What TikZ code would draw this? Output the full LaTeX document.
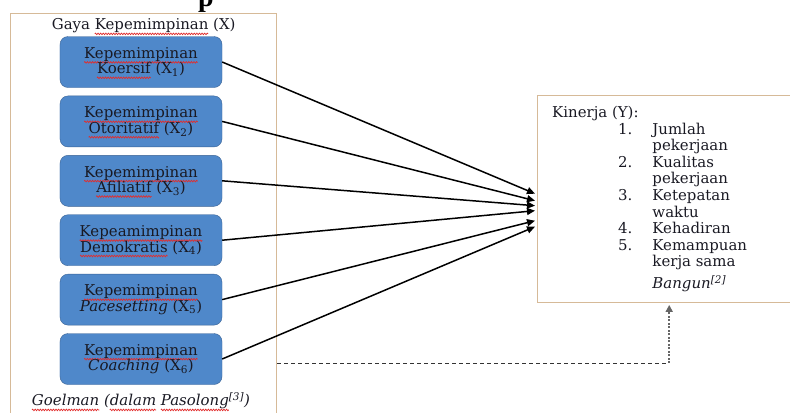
\documentclass[tikz,border=0pt]{standalone}
\usepackage{fontspec}
\setmainfont{DejaVu Serif}
\newfontfamily\headfont{Liberation Serif}
\usepackage{tikz}
\usetikzlibrary{arrows.meta, positioning, decorations.pathmorphing}
\usepackage{xcolor}
\definecolor{cBox}{RGB}{79,136,202}
\definecolor{cBoxLine}{RGB}{58,98,148}
\definecolor{cFrame}{RGB}{214,186,152}
\definecolor{cText}{RGB}{25,25,35}
\definecolor{cSquig}{RGB}{225,45,45}
\newsavebox{\sqbox}
\newcommand{\sqw}[1]{\leavevmode\sbox{\sqbox}{#1}%
  \rlap{\tikz[overlay, baseline=0pt, x=1bp, y=1bp, sharp corners]
    \draw[cSquig, line width=0.7bp, fill=none, sharp corners, decorate,
          decoration={zigzag, amplitude=0.8bp, segment length=2.6bp}]
      (0pt,-4bp) -- (\wd\sqbox,-4bp);}%
  \usebox{\sqbox}}
\tikzset{
  framebox/.style={rectangle, draw=cFrame, line width=1.4bp},
  stylenode/.style={rectangle, rounded corners=8bp, draw=cBoxLine,
                    fill=cBox, minimum width=162bp, minimum height=51bp,
                    align=center, text=cText,
                    font=\fontsize{15}{15.5}\selectfont},
  plaintext/.style={text=cText, font=\fontsize{15}{15.5}\selectfont},
  linkarrow/.style={-{Triangle[length=8bp,width=7bp]}, line width=1.5bp,
                    color=black},
  dashline/.style={dashed, dash pattern=on 4bp off 3bp, line width=1bp,
                   color=black!80},
  dotarrow/.style={-{Triangle[length=7bp,width=7bp]},
                   dash pattern=on 2bp off 1.5bp, line width=1.6bp,
                   color=black!60}
}
\begin{document}
\begin{tikzpicture}[x=1bp, y=-1bp, node distance=8bp and 1cm]
  \useasboundingbox (0,0) rectangle (790,412);
  \node[font=\headfont\bfseries\fontsize{28}{28}\selectfont, anchor=base]
      (head) at (206,6) {p};

  \node[framebox, minimum width=266bp, minimum height=420bp,
        anchor=north west] (gaya) at (10,13) {};
  \node[plaintext, anchor=north] (gayatitle) at ([yshift=-2bp]gaya.north)
      {Gaya \sqw{Kepemimpinan} (X)};

  \node[stylenode] (x1) at (141,62)
      {\sqw{Kepemimpinan}\\\sqw{Koersif} (X\textsubscript{1})};
  \node[stylenode, below=of x1] (x2)
      {\sqw{Kepemimpinan}\\\sqw{Otoritatif} (X\textsubscript{2})};
  \node[stylenode, below=of x2] (x3)
      {\sqw{Kepemimpinan}\\\sqw{Afiliatif} (X\textsubscript{3})};
  \node[stylenode, below=of x3] (x4)
      {\sqw{Kepeamimpinan}\\\sqw{Demokratis} (X\textsubscript{4})};
  \node[stylenode, below=of x4] (x5)
      {\sqw{Kepemimpinan}\\\textit{Pacesetting} (X\textsubscript{5})};
  \node[stylenode, below=of x5] (x6)
      {\sqw{Kepemimpinan}\\\textit{Coaching} (X\textsubscript{6})};

  \node[plaintext, font=\itshape\fontsize{15}{15.5}\selectfont] (src)
      at (141,401)
      {\sqw{Goelman} (\sqw{dalam} \sqw{Pasolong}\textsuperscript{[3]})};

  \node[framebox, minimum width=263bp, minimum height=207bp,
        anchor=north west] (kin) at (537,95) {};
  \node[plaintext, anchor=north west, inner sep=0pt,
        font=\fontsize{15}{16.6}\selectfont] (kintext)
      at ([xshift=15bp,yshift=-11bp]kin.north west)
      {\begin{tabular}{@{\hspace{66bp}}r@{\hspace{20bp}}l}
        \multicolumn{2}{@{}l}{Kinerja (Y):}\\
        1. & Jumlah\\
           & pekerjaan\\
        2. & Kualitas\\
           & pekerjaan\\
        3. & Ketepatan\\
           & waktu\\
        4. & Kehadiran\\
        5. & Kemampuan\\
           & kerja sama\\[4bp]
           & \textit{Bangun}\textsuperscript{\textit{[2]}}
       \end{tabular}};

  \draw[linkarrow] (x1.east) -- ([xshift=-2bp,yshift=5.5bp]kin.west);
  \draw[linkarrow] (x2.east) -- ([xshift=-2bp,yshift=-1.5bp]kin.west);
  \draw[linkarrow] (x3.east) -- ([xshift=-2bp,yshift=-6.5bp]kin.west);
  \draw[linkarrow] (x4.east) -- ([xshift=-2bp,yshift=-11.5bp]kin.west);
  \draw[linkarrow] (x5.east) -- ([xshift=-2bp,yshift=-21.5bp]kin.west);
  \draw[linkarrow] (x6.east) -- ([xshift=-2bp,yshift=-27.5bp]kin.west);

  \coordinate (turn) at ([yshift=-4bp]kin.south |- x6.east);
  \draw[dashline] ([yshift=-4bp]x6.east -| gaya.east) -- (turn);
  \draw[dotarrow, shorten >=1.5bp] (turn) -- (kin.south);
\end{tikzpicture}
\end{document}
